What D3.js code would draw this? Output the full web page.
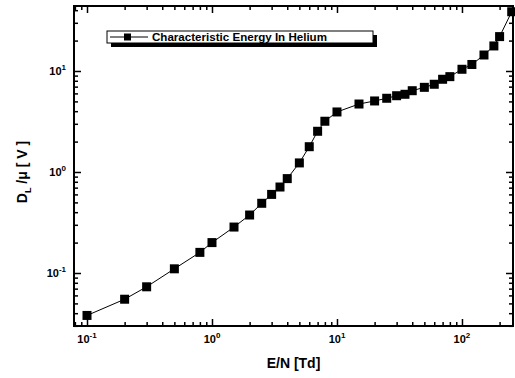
<!DOCTYPE html>
<html><head><meta charset="utf-8">
<script src="https://cdn.jsdelivr.net/npm/d3@7"></script>
<style>body{margin:0;background:#fff}svg{display:block}text{font-family:"Liberation Sans",Arial,sans-serif;font-weight:bold;fill:#000}</style>
</head><body><svg id="c" width="515" height="378"></svg>
<script>
const eN = [0.1,0.2,0.3,0.5,0.8,1,1.5,2,2.5,3,3.5,4,5,6,7,8,10,15,20,25,30,35,40,50,60,70,80,100,120,150,180,200,250];
const dlMu = [0.038,0.055,0.073,0.11,0.16,0.2,0.285,0.375,0.49,0.6,0.71,0.86,1.23,1.78,2.53,3.18,3.93,4.71,5.05,5.37,5.69,5.88,6.38,6.89,7.39,8.28,8.79,10.4,11.6,14.4,17.7,21.9,38.6];
const xMajor = [0.1,1,10,100];
const xMajorExp = ["-1","0","1","2"];
const yMajor = [0.1,1,10];
const yMajorExp = ["-1","0","1"];
const seriesName = "Characteristic Energy In Helium";
const xTitle = "E/N [Td]";

const svg = d3.select("#c");
const L=74,R=513,T=6,B=326;
const x = d3.scaleLog().domain([0.0787,256]).range([L,R]);
const y = d3.scaleLog().domain([0.02987,44.0]).range([B,T]);

function minors(dom){
  const out=[];
  for(let e=-3;e<=3;e++){for(let k=2;k<=9;k++){const v=k*Math.pow(10,e); if(v>=dom[0]&&v<=dom[1]) out.push(v);}}
  return out;
}
const xMinor=minors(x.domain()), yMinor=minors(y.domain());

// ticks (inward)
svg.append("g").attr("transform",`translate(0,${B})`).call(d3.axisBottom(x).tickValues(xMajor).tickSize(-7).tickFormat("")).call(g=>g.select(".domain").remove());
svg.append("g").attr("transform",`translate(0,${B})`).call(d3.axisBottom(x).tickValues(xMinor).tickSize(-4).tickFormat("")).call(g=>g.select(".domain").remove());
svg.append("g").attr("transform",`translate(0,${T})`).call(d3.axisTop(x).tickValues(xMajor).tickSize(-7).tickFormat("")).call(g=>g.select(".domain").remove());
svg.append("g").attr("transform",`translate(0,${T})`).call(d3.axisTop(x).tickValues(xMinor).tickSize(-4).tickFormat("")).call(g=>g.select(".domain").remove());
svg.append("g").attr("transform",`translate(${L},0)`).call(d3.axisLeft(y).tickValues(yMajor).tickSize(-7).tickFormat("")).call(g=>g.select(".domain").remove());
svg.append("g").attr("transform",`translate(${L},0)`).call(d3.axisLeft(y).tickValues(yMinor).tickSize(-4).tickFormat("")).call(g=>g.select(".domain").remove());
svg.append("g").attr("transform",`translate(${R},0)`).call(d3.axisRight(y).tickValues(yMajor).tickSize(-7).tickFormat("")).call(g=>g.select(".domain").remove());
svg.append("g").attr("transform",`translate(${R},0)`).call(d3.axisRight(y).tickValues(yMinor).tickSize(-4).tickFormat("")).call(g=>g.select(".domain").remove());
svg.selectAll(".tick line").attr("stroke","#000").attr("stroke-width",1.5);

// frame
svg.append("rect").attr("x",L).attr("y",T).attr("width",R-L).attr("height",B-T).attr("fill","none").attr("stroke","#000").attr("stroke-width",2);

// tick labels
xMajor.forEach((v,i)=>{
  const t=svg.append("text").attr("x",x(v)).attr("y",B+17).attr("text-anchor","middle").attr("font-size",11);
  t.append("tspan").text("10");
  t.append("tspan").attr("dy",-5).attr("font-size",8).text(xMajorExp[i]);
});
yMajor.forEach((v,i)=>{
  const t=svg.append("text").attr("x",L-8).attr("y",y(v)+4).attr("text-anchor","end").attr("font-size",11);
  t.append("tspan").text("10");
  t.append("tspan").attr("dy",-5).attr("font-size",8).text(yMajorExp[i]);
});

// titles
svg.append("text").attr("x",(L+R)/2).attr("y",368).attr("text-anchor","middle").attr("font-size",14).text(xTitle);
const yt=svg.append("text").attr("transform",`translate(27,${(T+B)/2+6}) rotate(-90)`).attr("text-anchor","middle").attr("font-size",14);
yt.append("tspan").text("D");
yt.append("tspan").attr("font-size",9).attr("dy",4).text("L");
yt.append("tspan").attr("dy",-4).text(" /μ [ V ]");

// line + markers
const pts=eN.map((v,i)=>[v,dlMu[i]]);
svg.append("path").datum(pts).attr("fill","none").attr("stroke","#000").attr("stroke-width",1)
  .attr("d",d3.line().x(d=>x(d[0])).y(d=>y(d[1])));
const s=9;
svg.selectAll("rect.m").data(pts).join("rect").attr("class","m")
  .attr("x",d=>x(d[0])-s/2).attr("y",d=>y(d[1])-s/2).attr("width",s).attr("height",s).attr("fill","#000");

// legend
const lg=svg.append("g");
lg.append("rect").attr("x",111).attr("y",35).attr("width",266).attr("height",12).attr("fill","#000");
lg.append("rect").attr("x",107).attr("y",31).attr("width",266).attr("height",12).attr("fill","#fff").attr("stroke","#000").attr("stroke-width",1);
lg.append("line").attr("x1",110).attr("x2",148).attr("y1",37).attr("y2",37).attr("stroke","#000").attr("stroke-width",1);
lg.append("rect").attr("x",124).attr("y",33.5).attr("width",7).attr("height",7).attr("fill","#000");
lg.append("text").attr("x",152).attr("y",41).attr("font-size",10.5).attr("textLength",175).attr("lengthAdjust","spacingAndGlyphs").text(seriesName);
</script></body></html>
